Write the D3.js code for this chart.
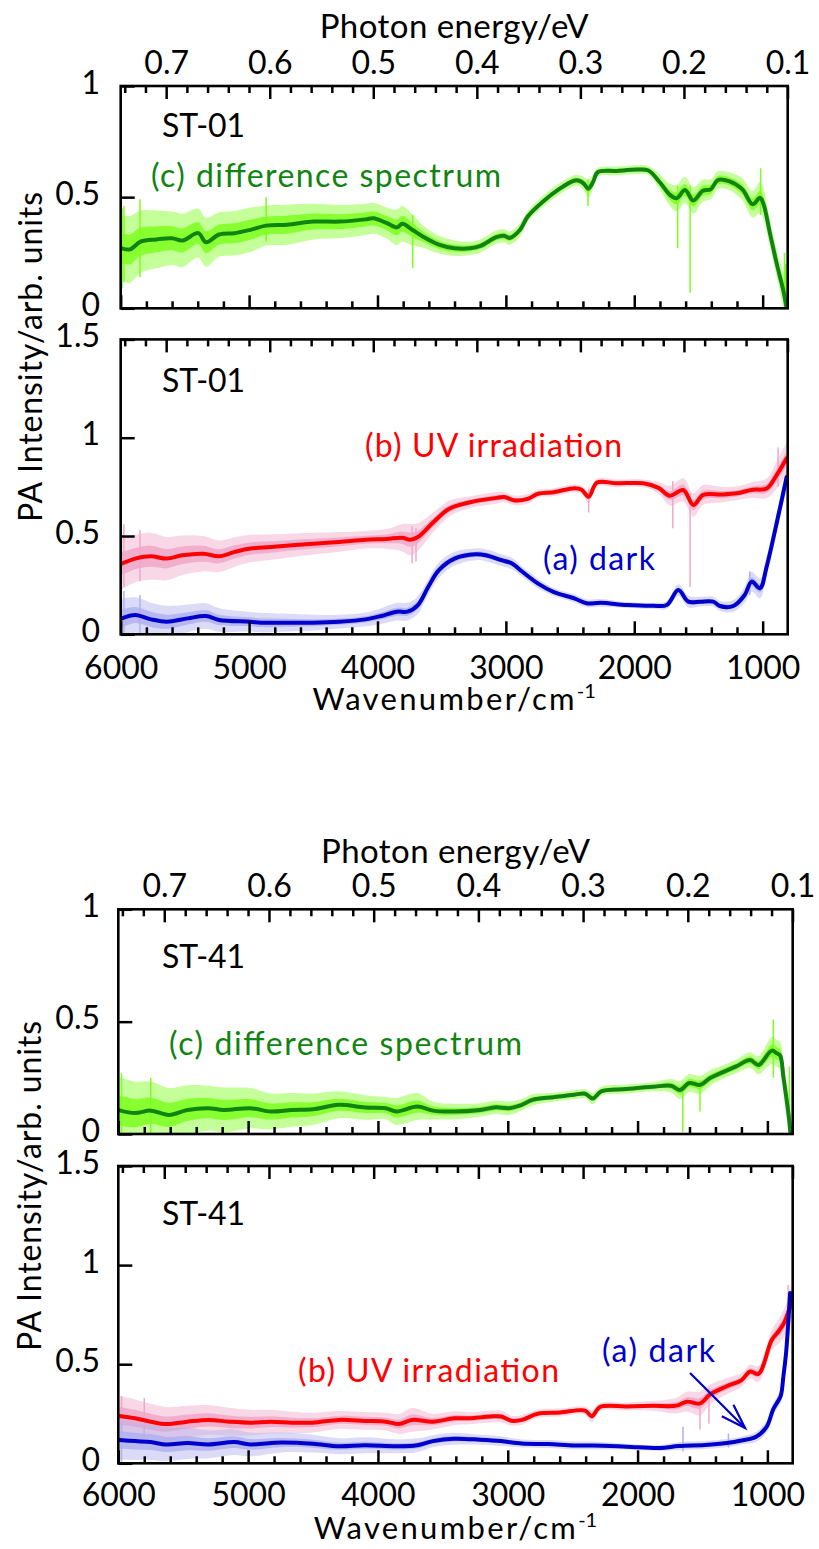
<!DOCTYPE html>
<html><head><meta charset="utf-8">
<script src="https://cdn.jsdelivr.net/npm/d3@7"></script>
<style>body{margin:0;background:#fff}svg{display:block}text{font-family:Lato,"Open Sans",sans-serif}</style>
</head><body>
<svg id="c" width="819" height="1549"></svg>
<script>
// ---------------- DATA ----------------
// rows: [wavenumber cm-1, smoothed intensity, half-spread of raw noisy trace]
const diff01 = [[5990,0.27,0.15],[5927,0.265,0.15],[5845,0.3,0.14],[5723,0.31,0.13],[5600,0.315,0.12],[5519,0.305,0.12],[5396,0.338,0.11],[5336,0.297,0.11],[5234,0.332,0.1],[5112,0.338,0.1],[4990,0.353,0.1],[4867,0.372,0.09],[4704,0.376,0.09],[4500,0.39,0.08],[4297,0.39,0.075],[4093,0.4,0.07],[4032,0.405,0.07],[3930,0.384,0.07],[3848,0.364,0.08],[3807,0.38,0.08],[3726,0.352,0.07],[3645,0.322,0.05],[3522,0.286,0.04],[3400,0.27,0.035],[3278,0.27,0.03],[3197,0.281,0.03],[3074,0.32,0.03],[3013,0.326,0.03],[2972,0.316,0.03],[2891,0.352,0.03],[2830,0.413,0.025],[2708,0.482,0.025],[2586,0.536,0.025],[2470,0.574,0.025],[2430,0.574,0.025],[2395,0.562,0.03],[2358,0.538,0.04],[2321,0.568,0.03],[2285,0.612,0.02],[2138,0.618,0.02],[1975,0.624,0.02],[1890,0.62,0.02],[1800,0.566,0.035],[1722,0.51,0.05],[1670,0.495,0.06],[1605,0.532,0.06],[1540,0.485,0.06],[1466,0.529,0.05],[1405,0.535,0.045],[1348,0.577,0.04],[1262,0.572,0.04],[1160,0.536,0.05],[1078,0.468,0.06],[1021,0.497,0.07],[995,0.472,0.07],[943,0.337,0.06],[891,0.202,0.06],[840,0.082,0.08],[813,0.0,0.1]];
const uv01 = [[5990,0.36,0.13],[5886,0.385,0.12],[5764,0.397,0.12],[5641,0.385,0.11],[5519,0.402,0.1],[5356,0.41,0.09],[5234,0.397,0.08],[5112,0.419,0.075],[4990,0.436,0.07],[4827,0.444,0.065],[4664,0.453,0.06],[4500,0.461,0.055],[4297,0.47,0.05],[4093,0.481,0.045],[3930,0.485,0.05],[3807,0.491,0.07],[3746,0.481,0.08],[3685,0.495,0.07],[3563,0.571,0.05],[3441,0.639,0.04],[3278,0.672,0.03],[3074,0.694,0.03],[3013,0.698,0.025],[2932,0.681,0.025],[2830,0.689,0.025],[2749,0.715,0.02],[2626,0.723,0.02],[2463,0.743,0.02],[2410,0.735,0.02],[2355,0.7,0.03],[2290,0.772,0.02],[2138,0.768,0.02],[1930,0.768,0.02],[1812,0.745,0.03],[1722,0.705,0.05],[1618,0.734,0.06],[1540,0.658,0.06],[1463,0.709,0.05],[1323,0.711,0.04],[1203,0.717,0.035],[1079,0.735,0.04],[969,0.742,0.05],[891,0.81,0.07],[813,0.895,0.08]];
const dark01 = [[5990,0.081,0.1],[5886,0.098,0.09],[5764,0.076,0.085],[5641,0.064,0.08],[5478,0.081,0.07],[5336,0.093,0.065],[5234,0.073,0.06],[4990,0.064,0.05],[4908,0.059,0.05],[4704,0.059,0.045],[4500,0.059,0.04],[4297,0.064,0.035],[4093,0.076,0.035],[3971,0.093,0.04],[3848,0.115,0.045],[3767,0.115,0.045],[3685,0.149,0.045],[3604,0.242,0.04],[3522,0.326,0.04],[3400,0.385,0.035],[3237,0.407,0.03],[3156,0.402,0.03],[3034,0.377,0.03],[2952,0.36,0.03],[2871,0.318,0.025],[2749,0.258,0.025],[2626,0.215,0.02],[2463,0.182,0.02],[2371,0.158,0.02],[2260,0.16,0.02],[2056,0.149,0.015],[1852,0.145,0.015],[1747,0.149,0.02],[1657,0.225,0.03],[1579,0.166,0.03],[1486,0.166,0.025],[1385,0.166,0.025],[1333,0.144,0.025],[1229,0.144,0.03],[1140,0.2,0.04],[1086,0.268,0.05],[1021,0.234,0.05],[969,0.344,0.05],[875,0.613,0.05],[813,0.8,0.05]];
const diff41 = [[5990,0.105,0.15],[5871,0.093,0.14],[5750,0.104,0.13],[5609,0.085,0.12],[5468,0.107,0.11],[5307,0.115,0.1],[5187,0.107,0.1],[4985,0.115,0.09],[4824,0.1,0.08],[4663,0.107,0.075],[4502,0.11,0.07],[4301,0.13,0.06],[4099,0.118,0.055],[3938,0.115,0.05],[3858,0.1,0.06],[3697,0.122,0.06],[3576,0.104,0.04],[3415,0.1,0.035],[3213,0.107,0.03],[3092,0.119,0.03],[2992,0.115,0.03],[2891,0.13,0.025],[2810,0.152,0.025],[2649,0.164,0.02],[2488,0.175,0.02],[2404,0.179,0.02],[2345,0.158,0.025],[2280,0.19,0.02],[2086,0.2,0.02],[1884,0.21,0.02],[1743,0.215,0.03],[1673,0.196,0.04],[1602,0.227,0.04],[1519,0.218,0.04],[1441,0.249,0.035],[1364,0.27,0.03],[1240,0.301,0.03],[1133,0.329,0.035],[1069,0.307,0.04],[966,0.371,0.06],[928,0.359,0.06],[902,0.35,0.06],[877,0.255,0.07],[838,0.092,0.09],[822,0.003,0.1]];
const uv41 = [[5990,0.239,0.1],[5871,0.227,0.095],[5750,0.21,0.09],[5630,0.198,0.085],[5468,0.21,0.08],[5307,0.219,0.075],[5146,0.21,0.07],[4985,0.205,0.065],[4824,0.21,0.06],[4663,0.205,0.055],[4502,0.205,0.05],[4301,0.219,0.045],[4099,0.214,0.045],[3938,0.21,0.045],[3838,0.198,0.05],[3737,0.219,0.06],[3576,0.21,0.04],[3415,0.227,0.035],[3294,0.227,0.03],[3133,0.236,0.03],[3052,0.236,0.03],[2972,0.215,0.025],[2891,0.219,0.025],[2770,0.25,0.02],[2598,0.256,0.02],[2404,0.266,0.02],[2353,0.237,0.03],[2289,0.284,0.02],[2086,0.287,0.02],[1884,0.29,0.025],[1698,0.291,0.04],[1621,0.311,0.05],[1519,0.302,0.06],[1441,0.348,0.05],[1313,0.389,0.04],[1199,0.42,0.035],[1133,0.463,0.035],[1069,0.451,0.04],[966,0.623,0.05],[915,0.665,0.06],[870,0.71,0.07],[825,0.791,0.08],[808,0.82,0.08]];
const dark41 = [[5990,0.118,0.1],[5871,0.112,0.095],[5750,0.107,0.09],[5630,0.095,0.085],[5468,0.102,0.08],[5307,0.095,0.07],[5106,0.107,0.065],[4985,0.095,0.06],[4744,0.105,0.05],[4502,0.099,0.045],[4301,0.086,0.04],[4099,0.091,0.04],[3858,0.086,0.035],[3697,0.091,0.035],[3576,0.112,0.03],[3415,0.124,0.03],[3213,0.119,0.025],[3052,0.112,0.025],[2891,0.1,0.02],[2689,0.097,0.02],[2488,0.09,0.02],[2341,0.09,0.02],[2086,0.084,0.015],[1827,0.077,0.015],[1683,0.087,0.02],[1481,0.092,0.02],[1313,0.102,0.02],[1200,0.115,0.02],[1087,0.134,0.025],[1005,0.185,0.03],[957,0.27,0.03],[928,0.303,0.03],[897,0.34,0.035],[877,0.437,0.04],[857,0.55,0.04],[825,0.859,0.05]];
// isolated spikes of the raw traces: [wavenumber, low, high]
const spikesDiff01 = [[5990,0.09,0.45],[5975,0.12,0.46],[5850,0.14,0.49],[4867,0.3,0.5],[3726,0.18,0.42],[2360,0.46,0.58],[1662,0.27,0.55],[1565,0.07,0.55],[1016,0.42,0.63],[830,0.0,0.25],[820,0.0,0.2]];
const spikesUV01 = [[5975,0.24,0.56],[5850,0.27,0.53],[3730,0.36,0.55],[3700,0.37,0.54],[2355,0.62,0.74],[1700,0.54,0.78],[1565,0.24,0.72],[880,0.75,0.95]];
const spikesDark01 = [[5975,0.0,0.22],[5850,0.0,0.2],[1100,0.2,0.32]];
const spikesDiff41 = [[5975,0.0,0.27],[5750,0.0,0.25],[1652,0.01,0.22],[1519,0.1,0.24],[954,0.25,0.51],[830,0.0,0.3]];
const spikesUV41 = [[5975,0.12,0.34],[5800,0.13,0.33],[1519,0.17,0.33],[1450,0.2,0.38],[840,0.7,0.9]];
const spikesDark41 = [[5975,0.0,0.2],[1650,0.06,0.185],[1300,0.08,0.15]];
// axis ticks
const wnMajor = [6000,5000,4000,3000,2000,1000];
const wnMinor = [5800,5600,5400,5200,4800,4600,4400,4200,3800,3600,3400,3200,2800,2600,2400,2200,1800,1600,1400,1200];
const eVMajor = [0.7,0.6,0.5,0.4,0.3,0.2,0.1];
const eVMinor = [0.74,0.72,0.68,0.66,0.64,0.62,0.58,0.56,0.54,0.52,0.48,0.46,0.44,0.42,0.38,0.36,0.34,0.32,0.28,0.26,0.24,0.22,0.18,0.16,0.14,0.12];
const wnDomain = [6000,805];
const EVCONV = 8065.54;

// ---------------- STYLE / LAYOUT ----------------
const C = {
  green:"#108410", lgreen:"#7dff1f",
  red:"#ff0000", pink:"#f0a8c8",
  blue:"#0000cc", lblue:"#b0b0f0"
};
const FS = 32;
const figs = [
  {x0:120.7, x1:787.7, topTitleY:38.3, eVPad:12, wnPad:22, botTitleY:710, yLabX:41.7, yLabCY:357, yPad:20.7,
   panels:[
     {top:86, bottom:308.3, max:1, yt:[0,0.5,1], name:"ST-01", nameY:137,
      series:[{d:diff01,s:spikesDiff01,line:C.green,noise:C.lgreen}],
      texts:[{t:"(c) difference spectrum",x:151,y:187,w:350,c:C.green}]},
     {top:339.4, bottom:634.3, max:1.5, yt:[0,0.5,1,1.5], name:"ST-01", nameY:392,
      series:[{d:uv01,s:spikesUV01,line:C.red,noise:C.pink},{d:dark01,s:spikesDark01,line:C.blue,noise:C.lblue}],
      texts:[{t:"(b) UV irradiation",x:365,y:457,w:257,c:C.red},{t:"(a) dark",x:543,y:570,w:112,c:C.blue}]}
   ]},
  {x0:118.3, x1:792.7, topTitleY:863.3, eVPad:12.6, wnPad:19.7, botTitleY:1538.5, yLabX:41, yLabCY:1186, yPad:18.3,
   panels:[
     {top:909.3, bottom:1134, max:1, yt:[0,0.5,1], name:"ST-41", nameY:968,
      series:[{d:diff41,s:spikesDiff41,line:C.green,noise:C.lgreen}],
      texts:[{t:"(c) difference spectrum",x:169,y:1055,w:353,c:C.green}]},
     {top:1166, bottom:1463.3, max:1.5, yt:[0,0.5,1,1.5], name:"ST-41", nameY:1225,
      series:[{d:uv41,s:spikesUV41,line:C.red,noise:C.pink},{d:dark41,s:spikesDark41,line:C.blue,noise:C.lblue}],
      texts:[{t:"(b) UV irradiation",x:298,y:1382,w:261,c:C.red},{t:"(a) dark",x:602,y:1362,w:113,c:C.blue}],
      arrow:{from:[1596,0.456], to:[1172,0.178], color:C.blue}}
   ]}
];

// ---------------- DRAW ----------------
const svg = d3.select("#c");
const defs = svg.append("defs");
let clipId = 0;
const curve = d3.curveCatmullRom.alpha(0.5);

figs.forEach(f=>{
  const x = d3.scaleLinear().domain(wnDomain).range([f.x0,f.x1]);
  const xe = d3.scaleLinear().domain(wnDomain.map(w=>w/EVCONV)).range([f.x0,f.x1]);
  const cx = (f.x0+f.x1)/2;

  f.panels.forEach((p,pi)=>{
    const y = d3.scaleLinear().domain([0,p.max]).range([p.bottom,p.top]);
    const id = "clip"+(clipId++);
    defs.append("clipPath").attr("id",id).append("rect")
      .attr("x",f.x0).attr("y",p.top).attr("width",f.x1-f.x0).attr("height",p.bottom-p.top);
    const g = svg.append("g").attr("clip-path",`url(#${id})`);

    // noisy raw traces (envelope + spikes)
    p.series.forEach(s=>{
      const outer = d3.area().curve(curve).x(d=>x(d[0])).y0(d=>y(d[1]-d[2])).y1(d=>y(d[1]+d[2]));
      const inner = d3.area().curve(curve).x(d=>x(d[0])).y0(d=>y(d[1]-d[2]*0.45)).y1(d=>y(d[1]+d[2]*0.45));
      g.append("path").datum(s.d).attr("d",outer).attr("fill",s.noise).attr("opacity",0.45);
      g.append("path").datum(s.d).attr("d",inner).attr("fill",s.noise).attr("opacity",0.85);
      g.selectAll(null).data(s.s).join("line")
        .attr("x1",d=>x(d[0])).attr("x2",d=>x(d[0]))
        .attr("y1",d=>y(d[1])).attr("y2",d=>y(d[2]))
        .attr("stroke",s.noise).attr("stroke-width",1.5);
    });
    // smoothed lines
    p.series.forEach(s=>{
      g.append("path").datum(s.d)
        .attr("d",d3.line().curve(curve).x(d=>x(d[0])).y(d=>y(d[1])))
        .attr("fill","none").attr("stroke",s.line).attr("stroke-width",4)
        .attr("stroke-linejoin","round").attr("stroke-linecap","round");
    });

    // axes: top eV ticks
    const top = svg.append("g").attr("transform",`translate(0,${p.top})`);
    top.call(d3.axisTop(xe).tickValues(eVMinor).tickSize(-7).tickFormat(""));
    const topMaj = svg.append("g").attr("transform",`translate(0,${p.top})`);
    topMaj.call(d3.axisTop(xe).tickValues(eVMajor).tickSize(-13).tickPadding(f.eVPad)
      .tickFormat(pi===0? d3.format(".1f") : ""));
    // bottom wavenumber ticks
    const bot = svg.append("g").attr("transform",`translate(0,${p.bottom})`);
    bot.call(d3.axisBottom(x).tickValues(wnMinor).tickSize(-7).tickFormat(""));
    const botMaj = svg.append("g").attr("transform",`translate(0,${p.bottom})`);
    botMaj.call(d3.axisBottom(x).tickValues(wnMajor).tickSize(-13).tickPadding(f.wnPad)
      .tickFormat(pi===1? d3.format("d") : ""));
    // left y ticks
    const left = svg.append("g").attr("transform",`translate(${f.x0},0)`);
    left.call(d3.axisLeft(y).tickValues(p.yt).tickSize(-14).tickPadding(f.yPad).tickFormat(d=>String(d)));

    [top,topMaj,bot,botMaj,left].forEach(a=>{
      a.select(".domain").remove();
      a.selectAll("line").attr("stroke","#000").attr("stroke-width",2.5);
      a.selectAll("text").attr("font-size",FS).attr("font-family","Lato").attr("fill","#000");
    });
    left.selectAll("text").attr("dy","0.22em");

    // frame
    svg.append("rect").attr("x",f.x0).attr("y",p.top).attr("width",f.x1-f.x0).attr("height",p.bottom-p.top)
      .attr("fill","none").attr("stroke","#000").attr("stroke-width",2.6);

    // labels
    svg.append("text").attr("x",162).attr("y",p.nameY).attr("font-size",FS)
      .attr("textLength",83).attr("lengthAdjust","spacing").text(p.name);
    p.texts.forEach(t=>{
      svg.append("text").attr("x",t.x).attr("y",t.y).attr("font-size",FS).attr("fill",t.c)
        .attr("textLength",t.w).attr("lengthAdjust","spacing").text(t.t);
    });
    if(p.arrow){
      const a=p.arrow, x1=x(a.from[0]), y1=y(a.from[1]), x2=x(a.to[0]), y2=y(a.to[1]);
      svg.append("line").attr("x1",x1).attr("y1",y1).attr("x2",x2).attr("y2",y2)
        .attr("stroke",a.color).attr("stroke-width",2.2);
      const ang=Math.atan2(y1-y2,x1-x2), L=26, w=0.32;
      const pts=[[x2+L*Math.cos(ang+w),y2+L*Math.sin(ang+w)],[x2,y2],[x2+L*Math.cos(ang-w),y2+L*Math.sin(ang-w)]];
      svg.append("path").attr("d",d3.line()(pts)).attr("fill","none").attr("stroke",a.color)
        .attr("stroke-width",2.2).attr("stroke-linejoin","miter");
    }
  });

  // titles
  svg.append("text").attr("x",cx).attr("y",f.topTitleY).attr("text-anchor","middle").attr("font-size",33)
    .attr("textLength",269).attr("lengthAdjust","spacing").text("Photon energy/eV");
  const wt = svg.append("text").attr("x",cx).attr("y",f.botTitleY).attr("text-anchor","middle").attr("font-size",31);
  wt.append("tspan").attr("textLength",262).attr("lengthAdjust","spacing").text("Wavenumber/cm");
  wt.append("tspan").attr("dy",-12).attr("font-size",20).text("-1");
  svg.append("text").attr("transform",`translate(${f.yLabX},${f.yLabCY}) rotate(-90)`)
    .attr("text-anchor","middle").attr("font-size",32)
    .attr("textLength",330).attr("lengthAdjust","spacing").text("PA Intensity/arb. units");
});
</script>
</body></html>
